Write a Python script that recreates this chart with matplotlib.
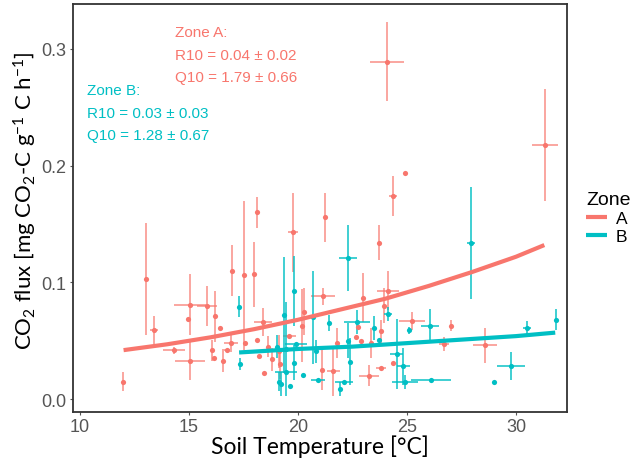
import matplotlib
matplotlib.use("Agg")
import matplotlib.pyplot as plt

# colours as in ggplot defaults
col_a = "#F8766D"
col_b = "#00BFC4"

# Zone A measurements: temperature, flux, x error, y error
a_temp = [24.08, 31.33, 24.91, 24.36, 18.12, 19.77, 21.24, 23.72, 16.97, 17.52,
          17.98, 22.98, 24.13, 21.15, 13.03, 13.39, 15.05, 14.95, 15.83, 16.19,
          16.42, 14.31, 15.05, 16.06, 16.15, 16.56, 16.74, 16.93, 17.57, 18.12,
          11.97, 18.39, 18.21, 18.44, 18.81, 18.62, 19.13, 19.17, 19.59, 20.18,
          20.28, 21.10, 21.61, 21.79, 22.66, 22.89, 22.75, 23.35, 23.26, 23.81,
          24.36, 23.81, 23.94, 25.23, 27.02, 26.70, 28.58]
a_flux = [0.289, 0.218, 0.194, 0.174, 0.160, 0.143, 0.156, 0.134, 0.110, 0.106,
          0.107, 0.087, 0.093, 0.088, 0.103, 0.059, 0.081, 0.069, 0.080, 0.071,
          0.061, 0.042, 0.033, 0.042, 0.035, 0.033, 0.042, 0.048, 0.048, 0.051,
          0.015, 0.066, 0.037, 0.022, 0.034, 0.045, 0.041, 0.030, 0.054, 0.063,
          0.075, 0.025, 0.024, 0.048, 0.053, 0.050, 0.062, 0.048, 0.020, 0.027,
          0.031, 0.058, 0.080, 0.067, 0.063, 0.047, 0.046]
a_xerr = [0.78, 0.6, 0, 0.2, 0, 0.25, 0, 0, 0, 0,
          0, 0, 0.5, 0.53, 0, 0.2, 0.73, 0, 0.45, 0,
          0, 0.5, 0.7, 0, 0, 0, 0.15, 0.32, 0, 0,
          0, 0.4, 0, 0, 0, 0, 0, 0, 0.3, 0,
          0, 0, 0.3, 0, 0, 0, 0, 0, 0.45, 0.25,
          0, 0, 0, 0.6, 0, 0.25, 0.55]
a_yerr = [0.034, 0.048, 0, 0.017, 0.013, 0.034, 0.021, 0.015, 0.022, 0.064,
          0.028, 0.021, 0.017, 0.007, 0.048, 0.012, 0.026, 0, 0.017, 0.022,
          0, 0.003, 0.017, 0.009, 0, 0.010, 0, 0.008, 0, 0,
          0.008, 0.012, 0, 0, 0.010, 0.009, 0.014, 0.013, 0, 0.031,
          0.020, 0.017, 0.021, 0.013, 0, 0, 0, 0.013, 0.009, 0,
          0, 0.010, 0.015, 0.008, 0.005, 0.006, 0.015]

# Zone B measurements
b_temp = [17.29, 17.34, 22.29, 27.94, 19.82, 19.36, 20.69, 21.42, 19.04, 19.45,
          19.91, 20.83, 22.29, 22.71, 23.49, 23.72, 24.13, 24.54, 24.82, 24.91,
          25.09, 19.13, 19.22, 19.45, 19.63, 19.82, 20.23, 20.92, 21.93, 22.11,
          22.39, 26.06, 30.50, 31.83, 26.10, 28.99, 29.77]
b_flux = [0.079, 0.030, 0.121, 0.134, 0.093, 0.072, 0.070, 0.065, 0.045, 0.043,
          0.047, 0.041, 0.050, 0.066, 0.061, 0.051, 0.073, 0.039, 0.028, 0.015,
          0.059, 0.015, 0.013, 0.023, 0.011, 0.031, 0.021, 0.016, 0.009, 0.015,
          0.032, 0.063, 0.061, 0.068, 0.016, 0.015, 0.028]
b_xerr = [0, 0, 0.43, 0.2, 0, 0, 0, 0, 0, 0,
          0.5, 0, 0, 0.6, 0, 0, 0.2, 0.3, 0.3, 0.6,
          0, 0, 0, 0.5, 0, 0, 0, 0.3, 0, 0.4,
          0, 0.4, 0.2, 0, 0.9, 0, 0.65]
b_yerr = [0.009, 0.005, 0.028, 0.048, 0.030, 0.050, 0.040, 0.007, 0.010, 0.040,
          0, 0.010, 0.015, 0.010, 0.010, 0, 0.006, 0.030, 0.016, 0.006,
          0.003, 0.008, 0.010, 0, 0, 0.015, 0, 0, 0.006, 0,
          0.020, 0.014, 0.006, 0.009, 0, 0, 0.012]

# fitted curves
fit_a_temp = [12, 14, 16, 18, 20, 22, 24, 26, 28, 30, 31.3]
fit_a_flux = [0.042, 0.047, 0.053, 0.060, 0.068, 0.077, 0.086, 0.097, 0.109, 0.122, 0.132]
fit_b_temp = [17.3, 20, 22.5, 25, 27.5, 30, 31.8]
fit_b_flux = [0.040, 0.043, 0.045, 0.048, 0.051, 0.054, 0.057]

x_ticks = [10, 15, 20, 25, 30]
y_ticks = [0.0, 0.1, 0.2, 0.3]

plt.rcParams["font.family"] = ["Liberation Sans", "DejaVu Sans"]
plt.rcParams["mathtext.default"] = "regular"

fig = plt.figure(figsize=(6.42, 4.64), dpi=100)
ax = fig.add_axes([73/642, 1-413/464, 494/642, 408/464])

ax.errorbar(a_temp, a_flux, xerr=a_xerr, yerr=a_yerr, fmt="none",
            ecolor=col_a, alpha=0.65, elinewidth=1.4, capsize=0)
ax.errorbar(b_temp, b_flux, xerr=b_xerr, yerr=b_yerr, fmt="none",
            ecolor=col_b, alpha=0.75, elinewidth=1.4, capsize=0)
ax.scatter(a_temp, a_flux, s=14, color=col_a, zorder=3, linewidths=0)
ax.scatter(b_temp, b_flux, s=14, color=col_b, zorder=3, linewidths=0)

ax.plot(fit_a_temp, fit_a_flux, color=col_a, lw=3, solid_capstyle="butt", label="A", zorder=4)
ax.plot(fit_b_temp, fit_b_flux, color=col_b, lw=3, solid_capstyle="butt", label="B", zorder=4)

fs = 11
ax.text(0.206, 0.931, "Zone A:", transform=ax.transAxes, color=col_a, fontsize=fs, va="center")
ax.text(0.206, 0.875, "R10 = 0.04 ± 0.02", transform=ax.transAxes, color=col_a, fontsize=fs, va="center")
ax.text(0.206, 0.821, "Q10 = 1.79 ± 0.66", transform=ax.transAxes, color=col_a, fontsize=fs, va="center")
ax.text(0.028, 0.789, "Zone B:", transform=ax.transAxes, color=col_b, fontsize=fs, va="center")
ax.text(0.028, 0.733, "R10 = 0.03 ± 0.03", transform=ax.transAxes, color=col_b, fontsize=fs, va="center")
ax.text(0.028, 0.679, "Q10 = 1.28 ± 0.67", transform=ax.transAxes, color=col_b, fontsize=fs, va="center")

ax.set_xlim(9.68, 32.34)
ax.set_ylim(-0.011, 0.3385)
ax.set_xticks(x_ticks)
ax.set_yticks(y_ticks)
ax.set_yticklabels(["0.0", "0.1", "0.2", "0.3"])
ax.tick_params(labelsize=13, colors="#555555", length=2.5, width=0.8, pad=2)
for s in ax.spines.values():
    s.set_color("#333333")
    s.set_linewidth(1.3)

ax.set_xlabel("Soil Temperature [°C]", fontsize=16.5, family="Lato", va="center")
ax.xaxis.set_label_coords(0.5, -0.082)
ax.set_ylabel("CO$_2$ flux [mg CO$_2$-C g$^{-1}$ C h$^{-1}$]", fontsize=16, family="Lato", va="center")
ax.yaxis.set_label_coords(-0.096, 0.52)

leg = fig.legend(loc="upper left", bbox_to_anchor=(574/642, 1-180/464), frameon=False,
                 title="Zone", fontsize=12.5, title_fontsize=14, handlelength=1.2,
                 handletextpad=0.5, labelspacing=0.15, borderpad=0.2)
leg._legend_box.align = "left"

fig.savefig("out.png", dpi=100)
